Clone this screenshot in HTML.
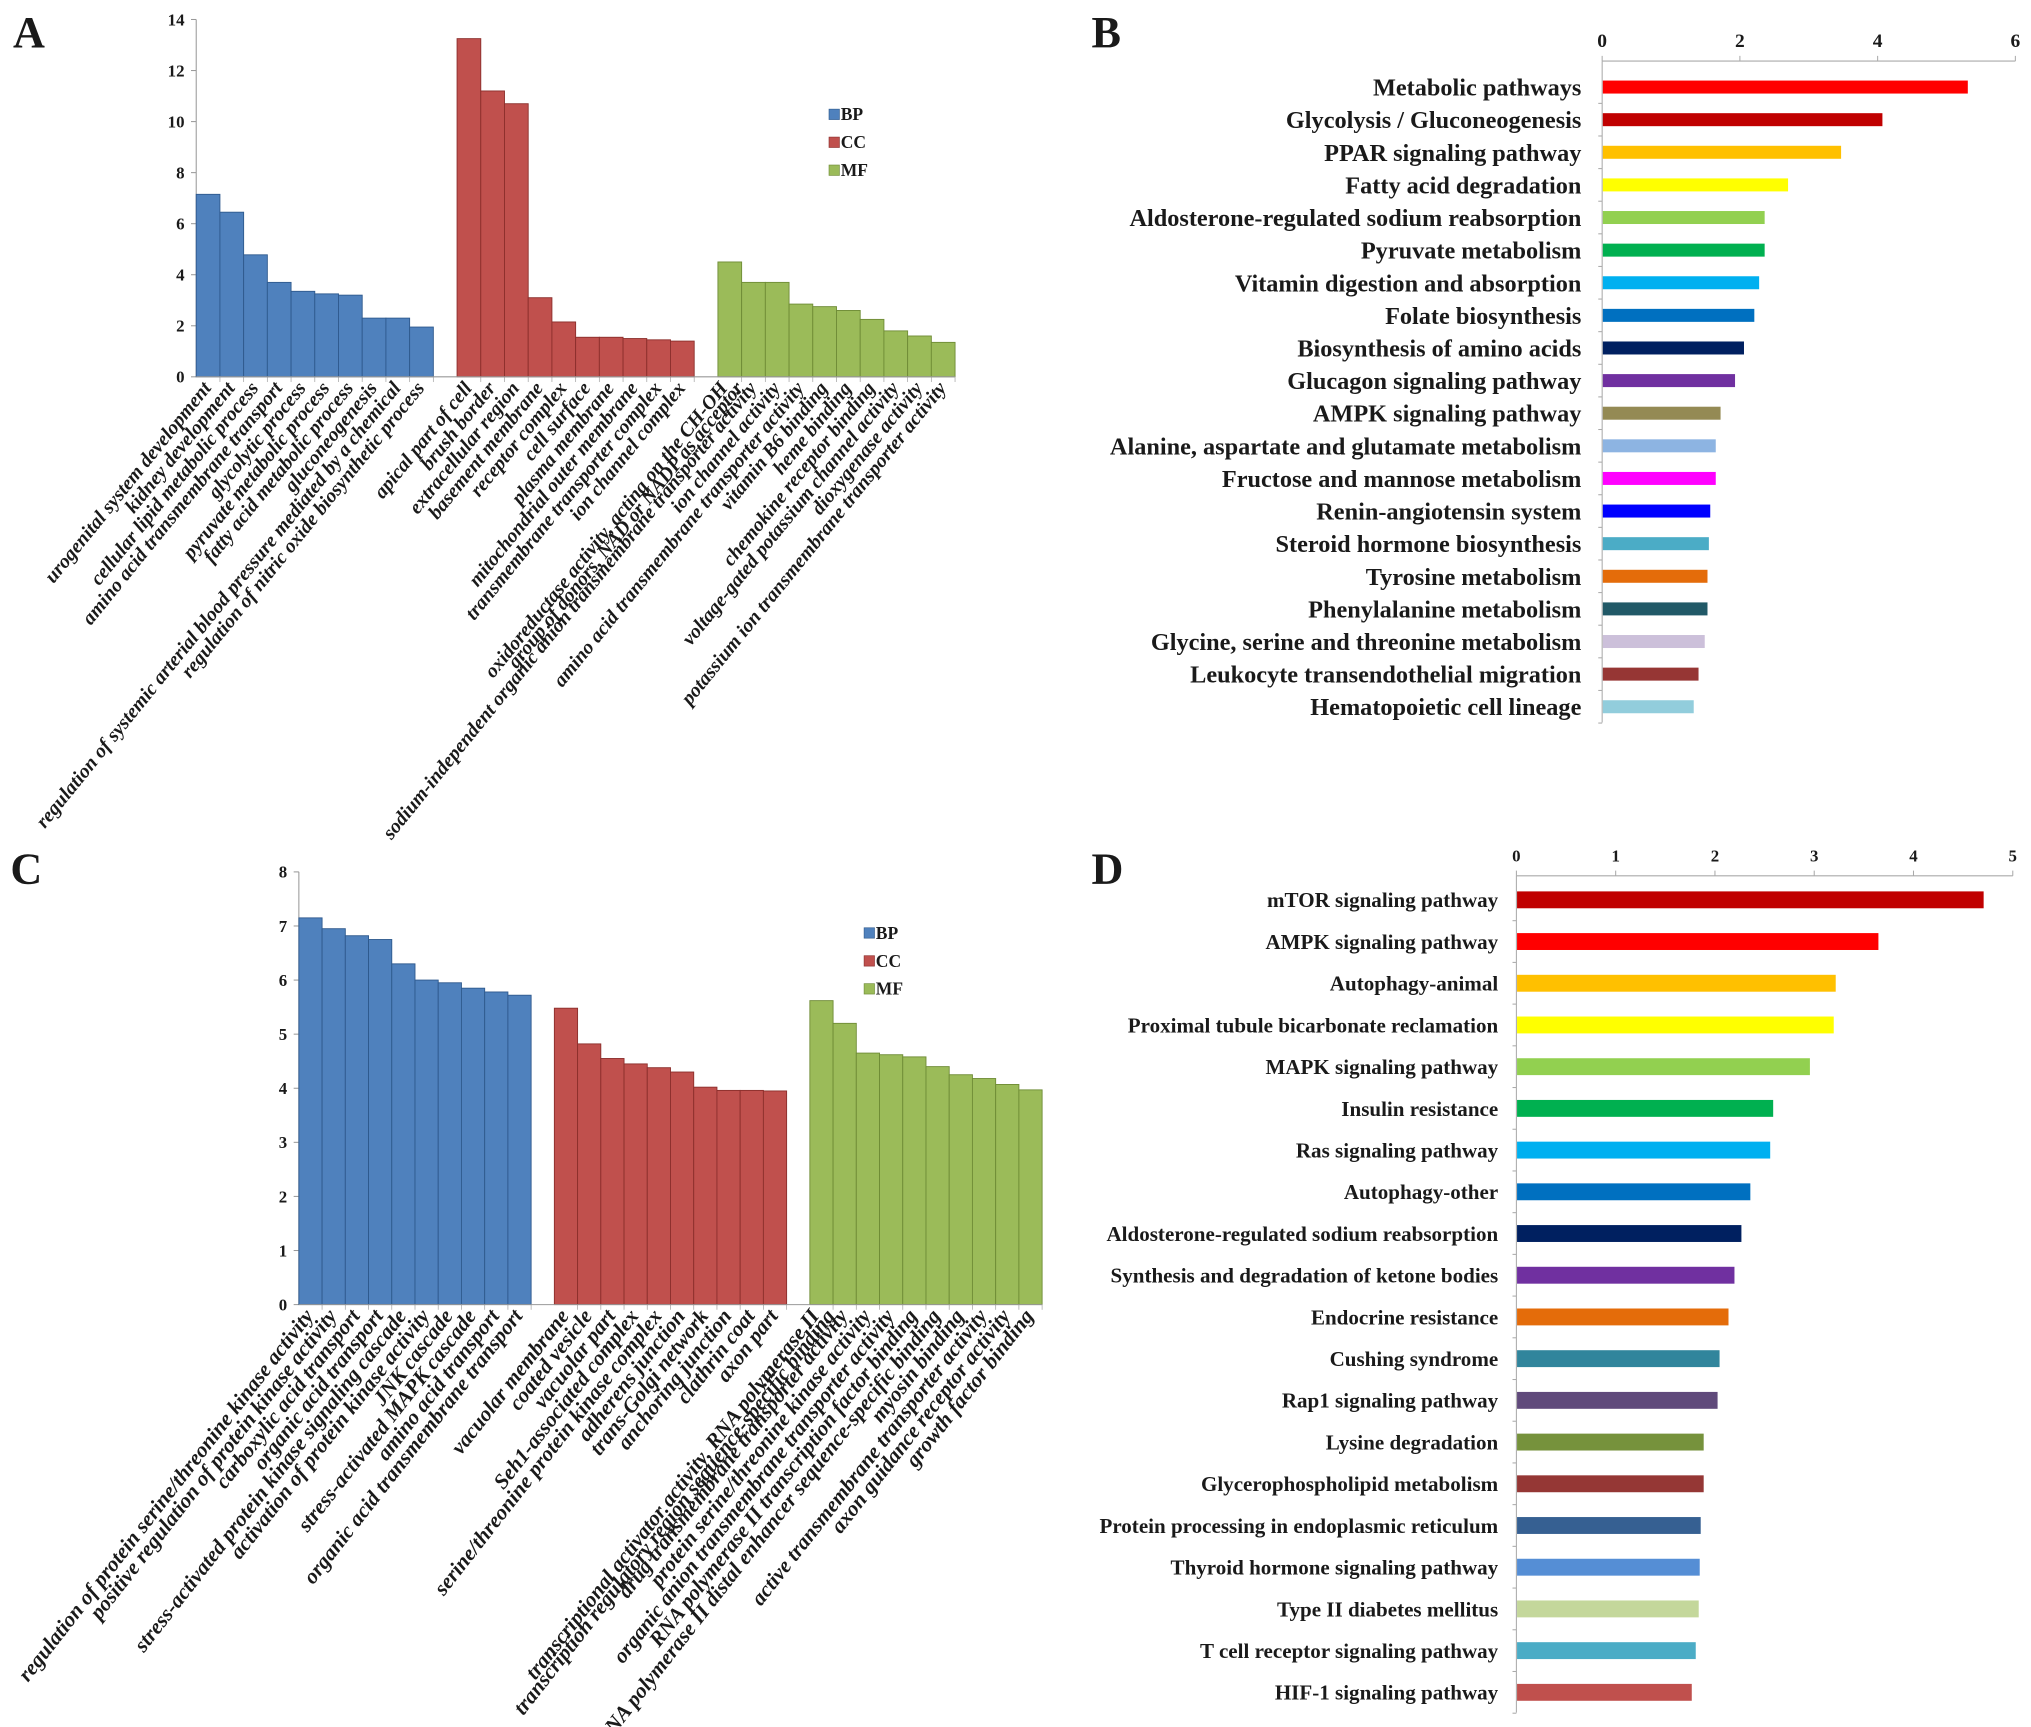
<!DOCTYPE html>
<html><head><meta charset="utf-8"><style>
html,body{margin:0;padding:0;background:#fff}
svg{display:block}
text{font-family:"Liberation Serif",serif;font-weight:bold;fill:#1a1a1a}
</style></head><body>
<svg id="fig" width="2031" height="1727" viewBox="0 0 2031 1727" xmlns="http://www.w3.org/2000/svg">
<rect width="2031" height="1727" fill="#fff"/>
<g id="root" transform="scale(1.2994)"></g>
</svg>
<script>
// ---- Panel A data ----
const aBP=[7.15,6.45,4.78,3.7,3.35,3.25,3.2,2.3,2.3,1.95];
const aCC=[13.25,11.2,10.7,3.1,2.15,1.55,1.55,1.5,1.45,1.4];
const aMF=[4.5,3.7,3.7,2.85,2.75,2.6,2.25,1.8,1.6,1.35];
const aTicks=[0,2,4,6,8,10,12,14];
const aLabels=["urogenital system development","kidney development","cellular lipid metabolic process","amino acid transmembrane transport","glycolytic process","pyruvate metabolic process","fatty acid metabolic process","gluconeogenesis","regulation of systemic arterial blood pressure mediated by a chemical","regulation of nitric oxide biosynthetic process",
"apical part of cell","brush border","extracellular region","basement membrane","receptor complex","cell surface","plasma membrane","mitochondrial outer membrane","transmembrane transporter complex","ion channel complex",
"oxidoreductase activity, acting on the CH-OH|group of donors, NAD or NADP as acceptor","sodium-independent organic anion transmembrane transporter activity","ion channel activity","amino acid transmembrane transporter activity","vitamin B6 binding","heme binding","chemokine receptor binding","voltage-gated potassium channel activity","dioxygenase activity","potassium ion transmembrane transporter activity"];
// ---- Panel C data ----
const cBP=[7.15,6.95,6.82,6.75,6.3,6.0,5.95,5.85,5.78,5.72];
const cCC=[5.48,4.82,4.55,4.45,4.38,4.3,4.02,3.96,3.96,3.95];
const cMF=[5.62,5.2,4.65,4.62,4.58,4.4,4.25,4.18,4.07,3.97];
const cTicks=[0,1,2,3,4,5,6,7,8];
const cLabels=["regulation of protein serine/threonine kinase activity","positive regulation of protein kinase activity","carboxylic acid transport","organic acid transport","stress-activated protein kinase signaling cascade","activation of protein kinase activity","JNK cascade","stress-activated MAPK cascade","amino acid transport","organic acid transmembrane transport",
"vacuolar membrane","coated vesicle","vacuolar part","Seh1-associated complex","serine/threonine protein kinase complex","adherens junction","trans-Golgi network","anchoring junction","clathrin coat","axon part",
"transcriptional activator activity, RNA polymerase II|transcription regulatory region sequence-specific binding","drug transmembrane transporter activity","protein serine/threonine kinase activity","organic anion transmembrane transporter activity","RNA polymerase II transcription factor binding","RNA polymerase II distal enhancer sequence-specific binding","myosin binding","active transmembrane transporter activity","axon guidance receptor activity","growth factor binding"];
// ---- Panel B data ----
const bNames=["Metabolic pathways","Glycolysis / Gluconeogenesis","PPAR signaling pathway","Fatty acid degradation","Aldosterone-regulated sodium reabsorption","Pyruvate metabolism","Vitamin digestion and absorption","Folate biosynthesis","Biosynthesis of amino acids","Glucagon signaling pathway","AMPK signaling pathway","Alanine, aspartate and glutamate metabolism","Fructose and mannose metabolism","Renin-angiotensin system","Steroid hormone biosynthesis","Tyrosine metabolism","Phenylalanine metabolism","Glycine, serine and threonine metabolism","Leukocyte transendothelial migration","Hematopoietic cell lineage"];
const bValues=[5.3,4.06,3.46,2.69,2.35,2.35,2.27,2.2,2.05,1.92,1.71,1.64,1.64,1.56,1.54,1.52,1.52,1.48,1.39,1.32];
const bColors=["#ff0000","#c00000","#ffc000","#ffff00","#92d050","#00b050","#00b0f0","#0070c0","#002060","#7030a0","#948a54","#8db4e2","#ff00ff","#0000ff","#4bacc6","#e46c0a","#215967","#ccc0da","#963634","#92cddc"];
const bTicks=[0,2,4,6];
// ---- Panel D data ----
const dNames=["mTOR signaling pathway","AMPK signaling pathway","Autophagy-animal","Proximal tubule bicarbonate reclamation","MAPK signaling pathway","Insulin resistance","Ras signaling pathway","Autophagy-other","Aldosterone-regulated sodium reabsorption","Synthesis and degradation of ketone bodies","Endocrine resistance","Cushing syndrome","Rap1 signaling pathway","Lysine degradation","Glycerophospholipid metabolism","Protein processing in endoplasmic reticulum","Thyroid hormone signaling pathway","Type II diabetes mellitus","T cell receptor signaling pathway","HIF-1 signaling pathway"];
const dValues=[4.7,3.64,3.21,3.19,2.95,2.58,2.55,2.35,2.26,2.19,2.13,2.04,2.02,1.88,1.88,1.85,1.84,1.83,1.8,1.76];
const dColors=["#c00000","#ff0000","#ffc000","#ffff00","#92d050","#00b050","#00b0f0","#0070c0","#002060","#7030a0","#e46c0a","#31859c","#604a7b","#76923c","#953735","#366092","#558ed5","#c4d79b","#4bacc6","#c0504d"];
const dTicks=[0,1,2,3,4,5];

const NS="http://www.w3.org/2000/svg";
const root=document.getElementById('root');
function mk(tag,attrs,parent){const e=document.createElementNS(NS,tag);for(const k in attrs)e.setAttribute(k,attrs[k]);(parent||root).appendChild(e);return e;}
function txt(s,attrs,parent){const t=mk('text',attrs,parent);t.textContent=s;return t;}

const groupColors=[["#4f81bd","#2f5a8e"],["#c0504d","#8c2f2c"],["#9bbb59","#6f8c36"]];

function columnChart(cfg){
  const g=mk('g',{});
  
  
  const {x0,x1,y0,yTop,max}=cfg;
  const yS=v=>y0-(v/max)*(y0-yTop);
  const slots=32, sw=(x1-x0)/slots;
  const ax=mk('line',{x1:x0,y1:y0,x2:x0,y2:yTop,stroke:'#999','stroke-width':0.8},g);
  
  
  cfg.ticks.forEach(t=>{
    mk('line',{x1:x0-4,x2:x0,y1:yS(t),y2:yS(t),stroke:'#999','stroke-width':0.8},g);
    const tl=txt(String(t),{x:x0-9,y:yS(t)+4.5,'text-anchor':'end','font-size':13},g);
    
    
  });
  const series=[cfg.bp,cfg.cc,cfg.mf];
  const names=['bp','cc','mf'];
  const ang=cfg.angle;
  let idx=0;
  series.forEach((arr,si)=>{
    arr.forEach((v,i)=>{
      const slot=si*11+i;
      const bx=x0+slot*sw;
      const r=mk('rect',{x:bx,y:yS(v),width:sw,height:y0-yS(v),fill:groupColors[si][0],stroke:groupColors[si][1],'stroke-width':0.7},g);
      
      
      mk('line',{x1:bx+sw,x2:bx+sw,y1:y0,y2:y0+4,stroke:'#aaa','stroke-width':0.6},g);
      const lab=cfg.labels[idx++];
      const parts=lab.split('|');
      const cx=bx+sw/2+3, cy=y0+9;
      parts.forEach((p,pi)=>{
        const lx=cx+(parts.length>1?(pi===0?-4:8):0), ly=cy;
        const t=txt(p,{x:lx,y:ly,'text-anchor':'end','font-size':cfg.fs,'font-style':'italic',transform:`rotate(-${ang} ${lx} ${ly})`},g);
        
        
      });
    });
  });
  const bl=mk('line',{x1:x0,y1:y0,x2:x1,y2:y0,stroke:'#999','stroke-width':0.8},g);
  
  
  ['BP','CC','MF'].forEach((n,i)=>{
    const ly=cfg.legY+i*21.5;
    const sq=mk('rect',{x:cfg.legX,y:ly-8,width:8,height:8,fill:groupColors[i][0],stroke:groupColors[i][1],'stroke-width':0.5},g);
    
    
    const lt=txt(n,{x:cfg.legX+9,y:ly+0.5,'font-size':13.5},g);
    
    
  });
}

function hbarChart(cfg){
  const g=mk('g',{});
  
  
  const {x0,x1,max,yAxis,yFirst,step,bh,yEnd}=cfg;
  const xS=v=>x0+(v/max)*(x1-x0);
  const ax=mk('line',{x1:x0,y1:yAxis,x2:x1,y2:yAxis,stroke:'#aaa','stroke-width':0.8},g);
  
  
  const vy=mk('line',{x1:x0,y1:yAxis,x2:x0,y2:yEnd,stroke:'#aaa','stroke-width':0.8},g);
  
  
  cfg.ticks.forEach(t=>{
    mk('line',{x1:xS(t),x2:xS(t),y1:yAxis-4,y2:yAxis,stroke:'#aaa','stroke-width':0.8},g);
    const tl=txt(String(t),{x:xS(t),y:yAxis-11,'text-anchor':'middle','font-size':cfg.tickFs},g);
    
    
  });
  cfg.names.forEach((n,i)=>{
    const cy=yFirst+i*step;
    mk('line',{x1:x0-3,x2:x0,y1:cy+step/2,y2:cy+step/2,stroke:'#aaa','stroke-width':0.8},g);
    const r=mk('rect',{x:x0+0.5,y:cy-bh/2,width:xS(cfg.values[i])-x0,height:bh,fill:cfg.colors[i]},g);
    
    
    const t=txt(n,{x:x0-cfg.gap,y:cy+cfg.fs*0.35,'text-anchor':'end','font-size':cfg.fs},g);
    
    
  });
}

columnChart({name:'panel-a-go-chart',x0:151,x1:735,y0:290,yTop:15,max:14,ticks:aTicks,bp:aBP,cc:aCC,mf:aMF,labels:aLabels,legX:638,legY:92,fs:15.3,angle:51});
columnChart({name:'panel-c-go-chart',x0:230,x1:802,y0:1004,yTop:671,max:8,ticks:cTicks,bp:cBP,cc:cCC,mf:cMF,labels:cLabels,legX:665,legY:722,fs:16.5,angle:52});
hbarChart({name:'panel-b-kegg-chart',x0:1233,x1:1551,max:6,yAxis:47,yEnd:556,yFirst:67,step:25.1,bh:10,names:bNames,values:bValues,colors:bColors,ticks:bTicks,fs:18.7,tickFs:15,gap:16});
hbarChart({name:'panel-d-kegg-chart',x0:1167,x1:1549,max:5,yAxis:674,yEnd:1318,yFirst:692.5,step:32.1,bh:13,names:dNames,values:dValues,colors:dColors,ticks:dTicks,fs:16.2,tickFs:13,gap:14});

[['A',10,36],['B',840,36],['C',8,680],['D',840,680]].forEach(p=>{
  const t=txt(p[0],{x:p[1],y:p[2],'font-size':34});
  
  
});
</script>
</body></html>
